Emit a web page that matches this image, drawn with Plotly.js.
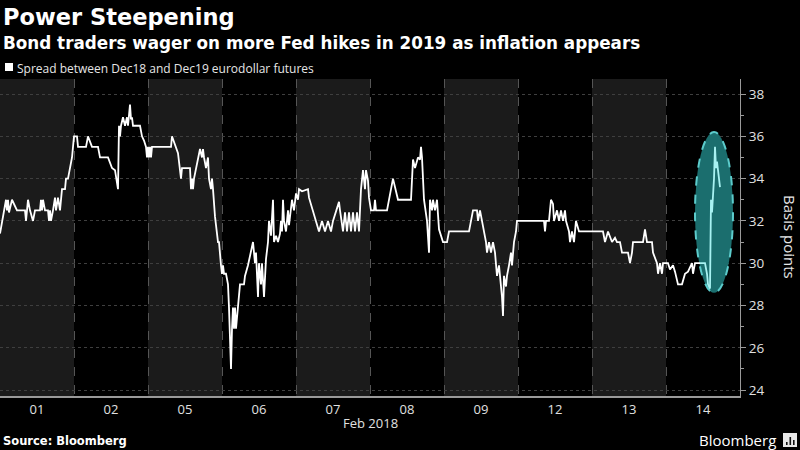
<!DOCTYPE html>
<html>
<head>
<meta charset="utf-8">
<script src="https://cdn.plot.ly/plotly-3.0.1.min.js"></script>
<style>
html,body{margin:0;padding:0;background:#000;}
#chart{width:800px;height:450px;}
</style>
</head>
<body>
<div id="chart"></div>
<script>
// Trading days shown (Feb 2018)
const dayLabels = ['01','02','05','06','07','08','09','12','13','14'];
const slotsPerDay = 74; // intraday time slots per trading day

// Intraday time slot (0..740) and spread in basis points
const slot = [
  0,2,4,6,7,8,9,12,17,25,26,28,30,33,35,40,41,42,43,45,48,49,50,51,53,55,56,58,60,62,65,66,68,70,72,74,
  77,78,86,88,92,98,100,108,112,115,117,118,119,120,121,123,125,127,128,130,131,132,133,140,142,144,146,147,148,
  149,150,151,152,171,172,178,181,182,190,191,192,193,194,196,200,202,203,204,206,208,209,211,212,213,215,218,219,221,
  222,223,224,226,228,229,230,231,232,233,234,235,236,238,240,244,245,248,251,253,255,256,258,259,261,262,264,
  266,268,269,271,272,273,274,276,278,280,281,282,283,284,286,288,289,291,292,294,295,296,
  298,299,302,308,309,313,316,319,322,325,328,331,333,336,339,340,343,345,347,349,351,353,355,357,359,361,363,365,366,368,
  369,371,374,375,376,387,393,398,411,413,415,418,420,421,422,424,426,427,429,430,432,433,435,437,439,443,
  447,449,469,471,473,477,478,480,482,484,486,487,489,491,493,495,496,497,499,501,502,503,504,506,507,509,511,512,514,516,517,
  544,545,546,549,551,553,554,557,559,561,563,565,566,569,570,572,574,576,579,589,
  593,603,605,608,612,615,617,620,622,628,630,632,633,643,645,647,652,653,657,658,660,662,663,
  668,670,673,675,678,682,685,688,692,693,695,700
];
const spread = [
  31.4,32.0,32.5,33.0,32.5,33.0,32.4,33.0,32.5,32.5,32.0,33.0,32.5,32.0,32.5,32.5,33.0,32.5,33.0,32.5,32.5,32.0,32.5,32.0,32.5,33.1,32.5,33.1,32.5,33.5,33.5,34.0,34.0,34.5,35.0,36.0,
  36.0,35.5,35.5,36.0,35.5,35.5,35.0,35.0,34.5,34.4,33.9,33.5,36.5,36.0,36.5,36.9,36.5,36.9,36.5,37.5,36.8,36.9,36.5,36.5,36.0,35.8,35.5,35.0,35.5,
  35.0,35.5,35.0,35.5,35.5,36.0,35.2,34.0,34.5,34.5,33.5,34.0,33.5,34.0,34.5,35.4,35.0,35.4,35.0,34.5,35.0,34.0,33.5,34.0,33.5,32.2,31.0,31.0,29.9,
  29.5,29.9,29.5,29.5,29.0,27.9,26.5,25.0,26.9,27.9,26.9,27.9,26.9,27.9,29.0,29.0,29.4,29.9,30.5,31.0,30.0,30.5,28.4,30.0,29.0,30.0,28.4,
  30.2,31.0,32.0,31.3,32.0,33.0,31.0,31.3,31.0,31.4,32.0,31.5,33.0,32.0,31.5,32.5,31.8,32.6,33.0,32.5,33.0,33.3,
  33.0,33.5,33.4,33.5,33.1,32.5,32.0,31.5,32.0,31.5,32.0,31.5,32.0,32.5,32.9,32.5,31.5,32.4,31.5,32.4,31.5,32.4,31.5,32.4,31.5,33.5,34.4,33.5,34.4,33.9,
  33.1,32.5,32.5,33.0,32.5,32.5,34.0,33.0,33.0,34.9,34.5,35.0,34.9,35.5,35.0,33.0,32.3,32.0,30.5,33.0,32.5,33.0,32.5,33.0,31.6,31.0,
  31.0,31.5,31.5,32.0,32.5,32.5,32.0,32.5,32.0,31.5,31.0,30.5,31.0,30.5,31.0,30.5,29.9,29.4,29.9,28.9,28.4,27.5,29.4,28.9,29.4,29.9,30.5,29.9,31.0,31.5,32.0,
  32.0,31.5,32.0,32.0,33.0,32.8,32.0,32.5,32.0,32.5,32.0,32.5,32.0,31.5,31.0,31.5,31.0,32.0,31.5,31.5,
  31.5,31.5,31.0,31.5,31.0,31.2,31.0,31.0,30.5,30.5,30.0,30.5,31.0,31.0,31.6,31.0,31.0,30.5,30.0,29.5,30.0,29.5,30.0,
  30.0,29.7,29.9,29.6,29.0,29.0,29.5,29.6,30.0,29.5,30.0,30.0
];
// Latest session (highlighted)
const tealSlot   = [700,702,705,707,708,710,711,712,713,714,715,716,717,718,719,720];
const tealSpread = [30.0,30.0,30.0,29.5,29.0,28.8,33.0,32.4,33.0,34.0,35.5,34.5,34.8,34.3,33.8,33.6];

const yTicks = [24,26,28,30,32,34,36,38];

const tickPos = dayLabels.map((d,i)=> i*slotsPerDay + slotsPerDay/2);

// pixel helpers for paper-referenced decorations (plot area: x 0..740, y 79..396)
const px = v => v/740;
const py = v => (396-v)/317;

const shapes = [];
dayLabels.forEach((d,i)=>{
  if(i%2===0){
    shapes.push({type:'rect', xref:'x', yref:'paper', x0:i*slotsPerDay, x1:(i+1)*slotsPerDay, y0:0, y1:1,
      fillcolor:'#1b1b1b', line:{width:0}, layer:'below'});
  }
});
// highlight ellipse
shapes.push({type:'circle', xref:'x', yref:'y', x0:695, x1:733, y0:28.6, y1:36.2,
  fillcolor:'#1b6e6e', line:{color:'#5ccccc', width:2, dash:'dash'}, layer:'between'});
// legend square
shapes.push({type:'rect', xref:'paper', yref:'paper', x0:px(5), x1:px(13), y0:py(71), y1:py(63),
  fillcolor:'#ffffff', line:{width:0}});
// Bloomberg logo box with bars
shapes.push({type:'rect', xref:'paper', yref:'paper', x0:px(783), x1:px(797), y0:py(447), y1:py(433),
  fillcolor:'#e8e8e8', line:{width:0}});
[[786,442],[789.5,437],[793,440]].forEach(b=>{
  shapes.push({type:'rect', xref:'paper', yref:'paper', x0:px(b[0]), x1:px(b[0]+1.6), y0:py(445), y1:py(b[1]),
    fillcolor:'#111', line:{width:0}});
});

const traces = [
  {x:slot, y:spread, type:'scatter', mode:'lines', line:{color:'#ffffff', width:1.8}, hoverinfo:'skip'},
  {x:tealSlot, y:tealSpread, type:'scatter', mode:'lines', line:{color:'#a8f2f2', width:1.8}, hoverinfo:'skip'}
];

const layout = {
  width:800, height:450,
  paper_bgcolor:'#000', plot_bgcolor:'#000',
  showlegend:false,
  margin:{l:0, r:60, t:79, b:54},
  xaxis:{
    range:[0, slotsPerDay*dayLabels.length],
    tickmode:'array', tickvals:tickPos, ticktext:dayLabels,
    showgrid:false, zeroline:false,
    ticks:'',
    tickfont:{family:'Open Sans, sans-serif', size:13, color:'#e0e0e0'},
    showline:true, linecolor:'#9a9a9a', linewidth:2,
    minor:{tickmode:'linear', tick0:0, dtick:slotsPerDay, showgrid:true, gridcolor:'#555555', griddash:'dash', gridwidth:1, ticks:''}
  },
  yaxis:{
    side:'right', range:[23.72, 38.71],
    tickmode:'array', tickvals:yTicks,
    showgrid:true, gridcolor:'#3f3f3f', griddash:'dot', gridwidth:1,
    zeroline:false,
    ticks:'outside', ticklen:5, tickcolor:'#9a9a9a', tickwidth:1,
    showline:true, linecolor:'#9a9a9a', linewidth:1,
    tickfont:{family:'Open Sans, sans-serif', size:13.5, color:'#e0e0e0'},
    minor:{tickmode:'linear', tick0:25, dtick:2, ticks:'outside', ticklen:3, tickcolor:'#9a9a9a', showgrid:false}
  },
  shapes:shapes,
  annotations:[
    {text:'<b>Power Steepening</b>', xref:'paper', yref:'paper', x:px(1), y:py(17), xanchor:'left', yanchor:'middle',
      showarrow:false, font:{family:'DejaVu Sans, sans-serif', size:22.5, color:'#ffffff'}},
    {text:'<b>Bond traders wager on more Fed hikes in 2019 as inflation appears</b>', xref:'paper', yref:'paper', x:px(1), y:py(43),
      xanchor:'left', yanchor:'middle', showarrow:false, font:{family:'DejaVu Sans, sans-serif', size:16.8, color:'#ffffff'}},
    {text:'Spread between Dec18 and Dec19 eurodollar futures', xref:'paper', yref:'paper', x:px(15), y:py(68),
      xanchor:'left', yanchor:'middle', showarrow:false, font:{family:'Open Sans, sans-serif', size:12, color:'#e6e6e6'}},
    {text:'Feb 2018', xref:'paper', yref:'paper', x:0.5, y:py(423), xanchor:'center', yanchor:'middle',
      showarrow:false, font:{family:'Open Sans, sans-serif', size:13, color:'#e0e0e0'}},
    {text:'Basis points', xref:'paper', yref:'paper', x:px(790), y:py(237), xanchor:'center', yanchor:'middle',
      textangle:90, showarrow:false, font:{family:'Open Sans, sans-serif', size:15, color:'#e6e6e6'}},
    {text:'<b>Source: Bloomberg</b>', xref:'paper', yref:'paper', x:px(1), y:py(441), xanchor:'left', yanchor:'middle',
      showarrow:false, font:{family:'DejaVu Sans, sans-serif', size:11.5, color:'#ffffff'}},
    {text:'Bloomberg', xref:'paper', yref:'paper', x:px(778), y:py(440), xanchor:'right', yanchor:'middle',
      showarrow:false, font:{family:'Open Sans, sans-serif', size:15, color:'#ffffff'}}
  ]
};

Plotly.newPlot('chart', traces, layout, {staticPlot:true, displayModeBar:false});
</script>
</body>
</html>
